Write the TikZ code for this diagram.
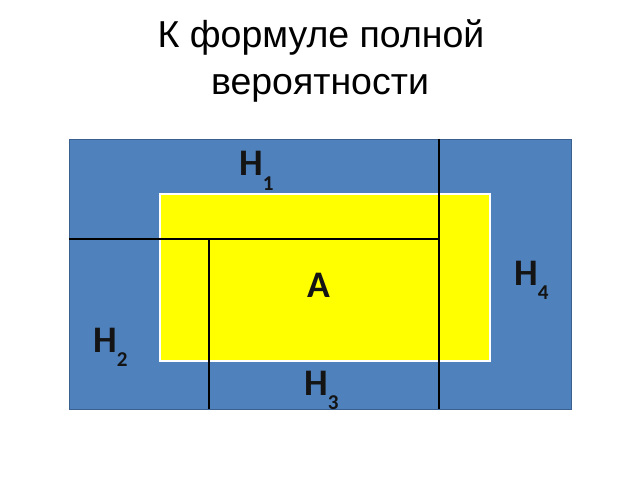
\documentclass[tikz,border=0pt]{standalone}
\usepackage{fontspec}
\setmainfont{Liberation Sans}
\newfontfamily\labfont{Carlito}
\usetikzlibrary{positioning}

\definecolor{fieldblue}{HTML}{4F81BD}
\definecolor{fieldedge}{HTML}{3A6090}
\definecolor{eventyel}{HTML}{FFFF00}

\newcommand{\hyp}[1]{H\raisebox{-12.5pt}{\fontsize{18}{18}\selectfont #1}}

\tikzset{
  titletext/.style={anchor=base, inner sep=0pt, font=\fontsize{32}{36}\selectfont},
  hyplabel/.style={anchor=base west, inner sep=0pt, text=black!92,
    font=\labfont\bfseries\fontsize{32}{32}\selectfont},
  splitline/.style={line width=2.4pt, black}
}

\begin{document}
\begin{tikzpicture}[x=0.03cm, y=-0.03cm]
\useasboundingbox (0,0) rectangle (640,480);

% title
\node[titletext] (title1) at (321,48) {К формуле полной};
\node[titletext] (title2) at (320,95) {вероятности};

% sample space and event
\draw[fill=fieldblue, draw=fieldedge, line width=0.8pt] (69,139) rectangle (571,409);
\draw[fill=eventyel, draw=white, line width=2pt] (160,194) rectangle (490,361);

% partition into hypotheses
\draw[splitline] (439,139) -- (439,409);
\draw[splitline] (69,239) -- (439,239);
\draw[splitline] (209,239) -- (209,409);

% labels
\node[hyplabel] (h1) at (239,176) {\hyp{1}};
\node[hyplabel] (h2) at (93,352) {\hyp{2}};
\node[hyplabel] (h3) at (304,395) {\hyp{3}};
\node[hyplabel] (h4) at (514,285) {\hyp{4}};
\node[hyplabel, anchor=base] (a) at (319,297) {A};

\end{tikzpicture}
\end{document}
